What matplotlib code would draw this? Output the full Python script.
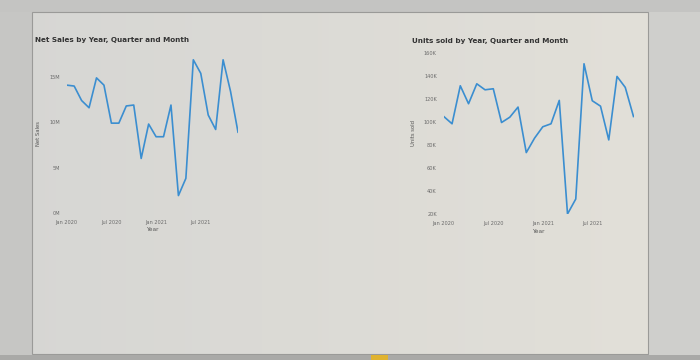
import matplotlib.pyplot as plt
from matplotlib.patches import Rectangle
import numpy as np

# monthly data, Jan 2020 - Dec 2021
months = list(range(24))
tick_pos = [0, 6, 12, 18]
tick_labels = ['Jan 2020', 'Jul 2020', 'Jan 2021', 'Jul 2021']

net_sales = [14.1, 14.0, 12.4, 11.6, 14.9, 14.1, 9.9, 9.9, 11.8, 11.9, 6.0, 9.8,
             8.4, 8.4, 11.9, 1.9, 3.8, 16.9, 15.4, 10.8, 9.2, 16.9, 13.4, 8.9]
units_sold = [104.6, 98.3, 131.3, 115.7, 133.0, 127.8, 128.7, 99.4, 104.0, 112.8, 73.3, 85.8,
              95.7, 98.3, 118.6, 20.0, 33.0, 150.4, 118.3, 113.6, 84.3, 139.4, 129.9, 104.6]

sales_ticks = [0, 5, 10, 15]
sales_labels = ['0M', '5M', '10M', '15M']
units_ticks = [20, 40, 60, 80, 100, 120, 140, 160]
units_labels = ['20K', '40K', '60K', '80K', '100K', '120K', '140K', '160K']

line_color = '#3b8ed0'
tick_color = '#6a6a6a'

fig = plt.figure(figsize=(7, 3.6), dpi=100)
fig.patch.set_facecolor('#c9c9c7')

# photo-like background with the report page
bg = fig.add_axes([0, 0, 1, 1])
grad = np.linspace(0, 1, 200)
img = np.ones((10, 200, 3))
img[:, :, 0] = 0.84 + 0.05 * grad
img[:, :, 1] = 0.84 + 0.04 * grad
img[:, :, 2] = 0.83 + 0.02 * grad
bg.imshow(img, extent=[0, 700, 0, 360], aspect='auto')
bg.add_patch(Rectangle((0, 0), 32, 360, color='#c6c6c4', lw=0))
bg.add_patch(Rectangle((648, 0), 52, 360, color='#cfcfcc', lw=0))
bg.add_patch(Rectangle((0, 348), 700, 12, color='#c4c4c2', lw=0))
bg.add_patch(Rectangle((32, 6), 616, 342, fill=False, ec='#9a9a98', lw=0.8))
bg.add_patch(Rectangle((0, 0), 700, 5, color='#a9a9a7', lw=0))
bg.add_patch(Rectangle((371, 0), 17, 5, color='#e0b330', lw=0))
bg.set_xlim(0, 700)
bg.set_ylim(0, 360)
bg.axis('off')


def style(ax, ylabel):
    ax.set_facecolor('none')
    for s in ax.spines.values():
        s.set_visible(False)
    ax.tick_params(length=0, labelsize=3.6, labelcolor=tick_color, pad=5)
    ax.set_xticks(tick_pos)
    ax.set_xticklabels(tick_labels)
    ax.set_xlabel('Year', fontsize=4.2, color='#555555', labelpad=2)
    ax.set_ylabel(ylabel, fontsize=3.8, color='#555555', labelpad=6)


ax1 = fig.add_axes([0.0953, 0.409, 0.2447, 0.44])
ax1.plot(months, net_sales, color=line_color, lw=1.2)
ax1.set_xlim(0, 23)
ax1.set_ylim(0, 17.5)
ax1.set_yticks(sales_ticks)
ax1.set_yticklabels(sales_labels)
style(ax1, 'Net Sales')

ax2 = fig.add_axes([0.634, 0.4056, 0.271, 0.448])
ax2.plot(months, units_sold, color=line_color, lw=1.2)
ax2.set_xlim(0, 23)
ax2.set_ylim(20, 160)
ax2.set_yticks(units_ticks)
ax2.set_yticklabels(units_labels)
style(ax2, 'Units sold')

fig.text(35 / 700, 1 - 40 / 360, 'Net Sales by Year, Quarter and Month',
         fontsize=5.2, color='#333333', fontweight='bold', va='center')
fig.text(412 / 700, 1 - 41 / 360, 'Units sold by Year, Quarter and Month',
         fontsize=5.2, color='#333333', fontweight='bold', va='center')

fig.savefig('out.png', dpi=100, facecolor=fig.get_facecolor())
